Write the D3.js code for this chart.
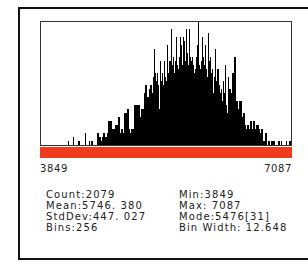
<!DOCTYPE html>
<html><head><meta charset="utf-8">
<script src="https://cdn.jsdelivr.net/npm/d3@7"></script>
<style>html,body{margin:0;padding:0;background:#fff;}svg{display:block;}</style>
</head><body>
<script>
const binCounts = [0,0,
0,0,0,0,0,0,0,0,0,0,0,0,0,0,0,0,0,0,0,0,0,0,0,0,0,0,1,
0,0,0,0,2,0,0,0,0,1,1,0,0,0,0,0,3,0,0,0,1,0,1,1,0,0,0,0,
3,3,2,2,1,2,2,3,2,2,2,3,6,2,6,4,4,3,4,5,5,3,7,3,3,4,3,2,
8,5,8,9,4,3,2,4,3,4,10,6,10,9,10,7,6,9,8,9,13,15,12,12,11,14,
15,13,10,17,24,18,16,18,15,9,21,16,18,15,21,17,16,25,18,21,21,29,20,22,18,
21,27,20,19,22,27,25,20,27,26,21,29,23,20,29,22,21,22,20,18,19,22,25,31,
20,19,21,27,22,20,25,19,17,28,21,22,18,19,13,17,24,16,19,19,15,13,14,11,
16,13,20,10,8,17,12,14,11,13,18,12,22,10,11,9,8,11,11,6,7,8,5,4,3,5,3,4,
6,3,4,6,3,4,5,5,4,3,2,4,1,1,0,3,0,0,1,0,0,1,0,1,0,0,0,0,1,0,0,1,0,0,0,0,1,
0,0,1,1,0];
const rangeMin = 3849, rangeMax = 7087;
const axisLabels = ["3849", "7087"];
const statsLeft = ["Count:2079", "Mean:5746. 380", "StdDev:447. 027", "Bins:256"];
const statsRight = ["Min:3849", "Max: 7087", "Mode:5476[31]", "Bin Width: 12.648"];

const W = 308, H = 268;
const svg = d3.select("body").append("svg").attr("width", W).attr("height", H);

// outer window frame
svg.append("rect").attr("x", 19).attr("y", 8).attr("width", 300).attr("height", 251)
  .attr("fill", "#fff").attr("stroke", "#111").attr("stroke-width", 2);

const px0 = 40, px1 = 292, py0 = 21, py1 = 145;
const x = d3.scaleBand().domain(d3.range(binCounts.length)).range([px0, px1]).paddingInner(0);
const y = d3.scaleLinear().domain([0, d3.max(binCounts)]).range([py1, py0]);

svg.append("g").attr("shape-rendering", "crispEdges").selectAll("rect").data(binCounts).join("rect")
  .attr("x", (d, i) => x(i)).attr("width", x.bandwidth() + 0.4)
  .attr("y", d => y(d)).attr("height", d => py1 - y(d))
  .attr("fill", "#000");

svg.append("rect").attr("x", px0 + 0.5).attr("y", py0 + 0.5)
  .attr("width", px1 - px0 - 1).attr("height", py1 - py0)
  .attr("fill", "none").attr("stroke", "#333").attr("stroke-width", 1);

// red LUT bar
const xv = d3.scaleLinear().domain([rangeMin, rangeMax]).range([px0, px1]);
svg.append("rect").attr("x", xv(rangeMin)).attr("y", 147)
  .attr("width", xv(rangeMax) - xv(rangeMin)).attr("height", 11).attr("fill", "#f03c1c");

const font = "'DejaVu Sans', sans-serif";
svg.append("text").attr("x", xv(rangeMin)).attr("y", 172).text(axisLabels[0])
  .attr("font-family", font).attr("font-size", 10).attr("fill", "#222").attr("letter-spacing", 0.6);
svg.append("text").attr("x", xv(rangeMax)).attr("y", 172).attr("text-anchor", "end").text(axisLabels[1])
  .attr("font-family", font).attr("font-size", 10).attr("fill", "#222").attr("letter-spacing", 0.6);

const rowY = [198, 209, 220, 231];
svg.append("g").selectAll("text").data(statsLeft).join("text")
  .attr("x", 46).attr("y", (d, i) => rowY[i]).text(d => d)
  .attr("font-family", font).attr("font-size", 10).attr("fill", "#222").attr("letter-spacing", 1.1);
svg.append("g").selectAll("text").data(statsRight).join("text")
  .attr("x", 179).attr("y", (d, i) => rowY[i]).text(d => d)
  .attr("font-family", font).attr("font-size", 10).attr("fill", "#222").attr("letter-spacing", 1.1);
</script>
</body></html>
